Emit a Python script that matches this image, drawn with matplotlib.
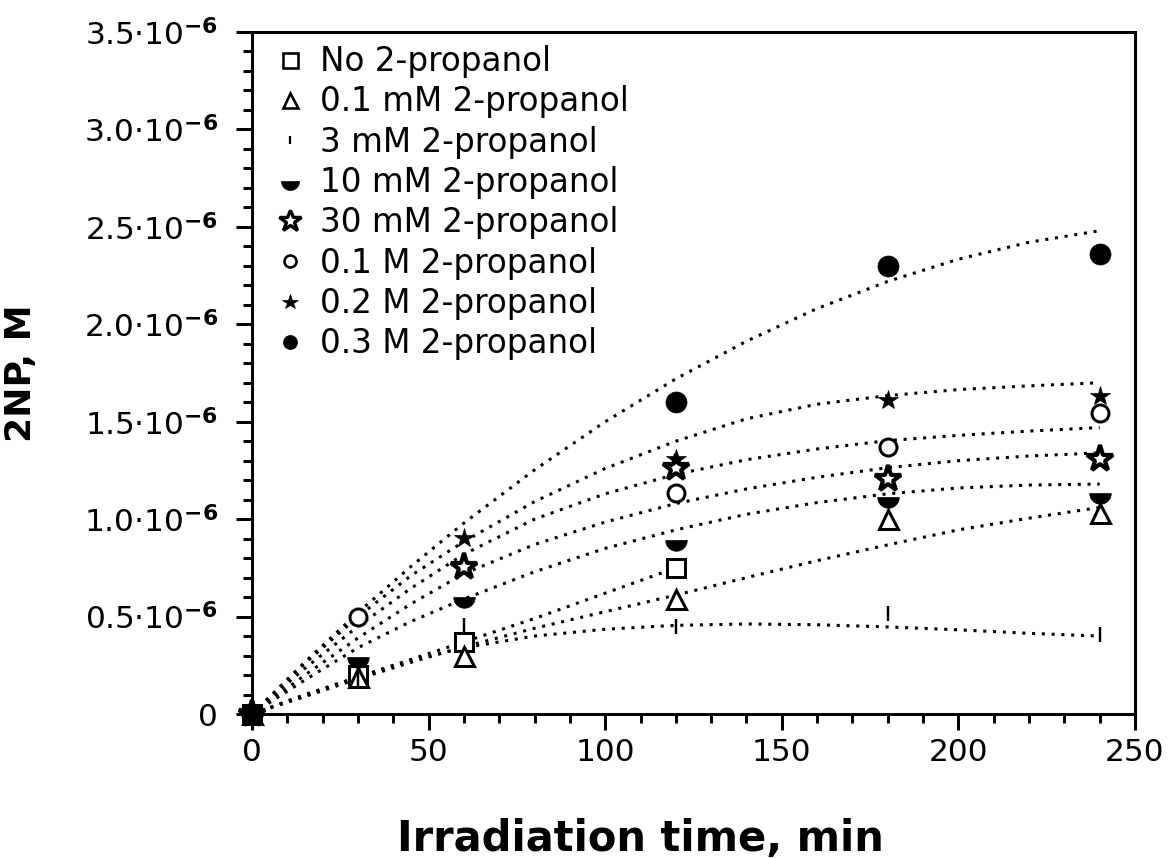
import numpy as np
import matplotlib
matplotlib.use("Agg")
import matplotlib.pyplot as plt
from matplotlib.path import Path
from matplotlib.lines import Line2D
from matplotlib.ticker import FixedLocator, MultipleLocator

plt.rcParams['font.family'] = ['DejaVu Sans']
plt.rcParams['mathtext.default'] = 'regular'

SCALE = 1e-6

# ---- measured data (values in units of 1e-6 M) ----
t_data = [0, 30, 60, 120, 180, 240]
labels = ["No 2-propanol", "0.1 mM 2-propanol", "3 mM 2-propanol", "10 mM 2-propanol",
          "30 mM 2-propanol", "0.1 M 2-propanol", "0.2 M 2-propanol", "0.3 M 2-propanol"]
nan = np.nan
y_none   = [0, 0.20, 0.37, 0.75, nan, nan]
y_01mM   = [0, 0.19, 0.30, 0.59, 1.00, 1.03]
y_3mM    = [0, 0.18, 0.455, 0.45, 0.52, 0.41]
y_10mM   = [0, 0.29, 0.60, 0.895, 1.115, 1.135]
y_30mM   = [0, nan, 0.756, 1.265, 1.207, 1.31]
y_01M    = [0, 0.50, nan, 1.135, 1.37, 1.545]
y_02M    = [0, nan, 0.905, 1.31, 1.614, 1.63]
y_03M    = [0, nan, nan, 1.60, 2.30, 2.36]

# ---- fitted curves ----
t_fit_none = [0, 15, 30, 45, 60, 80, 100, 120]
t_fit = [0, 15, 30, 45, 60, 80, 100, 120, 140, 160, 180, 200, 220, 240]
f_none = [0, 0.095, 0.19, 0.28, 0.37, 0.49, 0.62, 0.75]
f_01mM = [0, 0.09, 0.18, 0.265, 0.345, 0.44, 0.525, 0.61, 0.70, 0.787, 0.868, 0.945, 1.005, 1.06]
f_3mM  = [0, 0.10, 0.19, 0.275, 0.34, 0.40, 0.435, 0.455, 0.462, 0.458, 0.447, 0.432, 0.414, 0.40]
f_10mM = [0, 0.175, 0.34, 0.475, 0.59, 0.73, 0.85, 0.945, 1.025, 1.085, 1.13, 1.16, 1.175, 1.18]
f_30mM = [0, 0.20, 0.39, 0.565, 0.72, 0.87, 0.985, 1.08, 1.155, 1.215, 1.264, 1.30, 1.324, 1.34]
f_01M  = [0, 0.235, 0.45, 0.645, 0.82, 1.00, 1.13, 1.23, 1.305, 1.36, 1.403, 1.43, 1.452, 1.47]
f_02M  = [0, 0.26, 0.50, 0.71, 0.885, 1.09, 1.26, 1.40, 1.515, 1.59, 1.634, 1.665, 1.684, 1.70]
f_03M  = [0, 0.267, 0.520, 0.757, 0.980, 1.253, 1.500, 1.720, 1.913, 2.081, 2.220, 2.334, 2.421, 2.480]

x_ticks = [0, 50, 100, 150, 200, 250]
y_ticks = [0, 0.5, 1.0, 1.5, 2.0, 2.5, 3.0, 3.5]
y_ticklabels = ["0"] + [f"{v:.1f}·10$^{{\\mathbf{{-6}}}}$" for v in y_ticks[1:]]

# half-filled circle marker (bottom half), centre on flat edge
theta = np.linspace(np.pi, 2 * np.pi, 40)
half_verts = np.column_stack([np.cos(theta), np.sin(theta)])
half_verts = np.vstack([half_verts, half_verts[:1]])
half_codes = [Path.MOVETO] + [Path.LINETO] * (len(half_verts) - 2) + [Path.CLOSEPOLY]
half_marker = Path(half_verts, half_codes)

PX = 72 / 100.0  # points per pixel at dpi 100

styles = [
    dict(marker='s', ms=18 * PX, mfc='white', mec='black', mew=3 * PX),
    dict(marker='^', ms=19 * PX, mfc='white', mec='black', mew=3 * PX),
    dict(marker='|', ms=15 * PX, mfc='black', mec='black', mew=2.4 * PX),
    dict(marker=half_marker, ms=21.5 * PX, mfc='black', mec='black', mew=0.5),
    dict(marker='*', ms=28 * PX, mfc='white', mec='black', mew=4.2 * PX),
    dict(marker='o', ms=17 * PX, mfc='white', mec='black', mew=3 * PX),
    dict(marker='*', ms=20 * PX, mfc='black', mec='black', mew=0.5),
    dict(marker='o', ms=21 * PX, mfc='black', mec='black', mew=0.5),
]
leg_styles = [
    dict(marker='s', ms=15 * PX, mfc='white', mec='black', mew=2.6 * PX),
    dict(marker='^', ms=15 * PX, mfc='white', mec='black', mew=2.6 * PX),
    dict(marker='|', ms=8 * PX, mfc='black', mec='black', mew=2.2 * PX),
    dict(marker=half_marker, ms=18 * PX, mfc='black', mec='black', mew=0.5),
    dict(marker='*', ms=23 * PX, mfc='white', mec='black', mew=3.4 * PX),
    dict(marker='o', ms=12 * PX, mfc='white', mec='black', mew=2.6 * PX),
    dict(marker='*', ms=16 * PX, mfc='black', mec='black', mew=0.5),
    dict(marker='o', ms=14 * PX, mfc='black', mec='black', mew=0.5),
]

series = [y_none, y_01mM, y_3mM, y_10mM, y_30mM, y_01M, y_02M, y_03M]
fits = [(t_fit_none, f_none), (t_fit, f_01mM), (t_fit, f_3mM), (t_fit, f_10mM),
        (t_fit, f_30mM), (t_fit, f_01M), (t_fit, f_02M), (t_fit, f_03M)]

fig = plt.figure(figsize=(11.69, 8.58), dpi=100)
W, H = 1169, 858
L, R, T, B = 252, 1135, 32, 714
ax = fig.add_axes([L / W, (H - B) / H, (R - L) / W, (B - T) / H])

for tf, ff in fits:
    ax.plot(tf, np.array(ff) * SCALE, color='black', lw=2.2, linestyle=(0, (1, 2.2)),
            dash_capstyle='butt', zorder=2)

for ys, st in zip(series, styles):
    ax.plot(t_data, np.array(ys) * SCALE, linestyle='none', zorder=5, clip_on=False, **st)

ax.set_xlim(0, 250)
ax.set_ylim(0, 3.5 * SCALE)

ax.xaxis.set_major_locator(FixedLocator(x_ticks))
ax.xaxis.set_minor_locator(MultipleLocator(10))
ax.yaxis.set_major_locator(FixedLocator([v * SCALE for v in y_ticks]))
ax.yaxis.set_minor_locator(MultipleLocator(0.1 * SCALE))
ax.set_yticklabels(y_ticklabels)
ax.set_xticklabels([str(v) for v in x_ticks])

for s in ax.spines.values():
    s.set_linewidth(3 * PX)
ax.tick_params(which='major', direction='out', length=16 * PX, width=3 * PX,
               labelsize=22.5, top=False, right=False)
ax.tick_params(which='minor', direction='out', length=9 * PX, width=3 * PX,
               top=False, right=False)
ax.tick_params(axis='x', which='major', pad=8 * PX)
ax.tick_params(axis='y', which='major', pad=18 * PX)

ax.set_xlabel("Irradiation time, min", fontsize=30, fontweight='bold')
ax.set_ylabel("2NP, M", fontsize=26, fontweight='bold')
ax.xaxis.set_label_coords((640 - L) / (R - L), (B - 818) / (B - T))
ax.yaxis.set_label_coords((38 - L) / (R - L), 0.5)

handles = [Line2D([], [], linestyle='none', **st) for st in leg_styles]
leg = ax.legend(handles, labels, loc='upper left', frameon=False, fontsize=23.5,
                bbox_to_anchor=((274 - L) / (R - L), (B - 45) / (B - T)),
                borderaxespad=0, borderpad=0, handlelength=0.95, handletextpad=0.45,
                labelspacing=0.225)

fig.savefig("out.png", dpi=100)
